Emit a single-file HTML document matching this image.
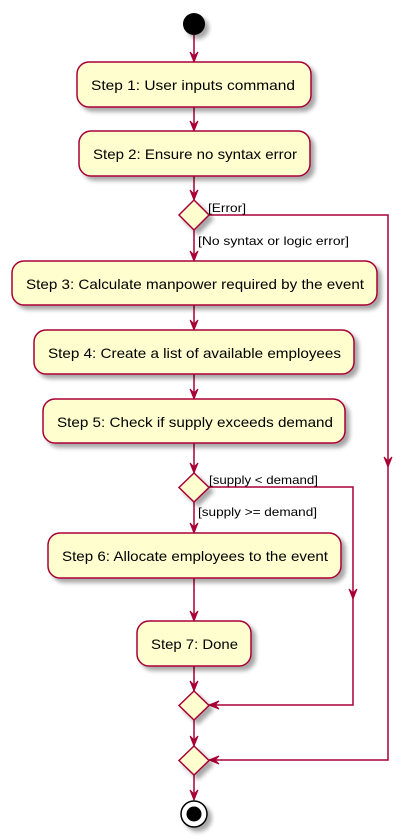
<!DOCTYPE html>
<html><head><meta charset="utf-8"><style>
html,body{margin:0;padding:0;background:#fff;}
svg{display:block;}
text{font-family:"Liberation Sans",sans-serif;fill:#000;}
</style></head><body>
<svg width="420" height="840" viewBox="0 0 420 840" xmlns="http://www.w3.org/2000/svg">
<defs>
<filter id="sh" x="-20%" y="-20%" width="150%" height="160%">
<feGaussianBlur in="SourceAlpha" stdDeviation="2"/>
<feOffset dx="4" dy="4" result="b"/>
<feComponentTransfer><feFuncA type="linear" slope="0.35"/></feComponentTransfer>
<feMerge><feMergeNode/><feMergeNode in="SourceGraphic"/></feMerge>
</filter>
</defs>
<g stroke="#A80036" stroke-width="1.5" fill="none">
<line x1="194" y1="35" x2="194" y2="62"/>
<line x1="194" y1="107" x2="194" y2="131"/>
<line x1="194" y1="176" x2="194" y2="200"/>
<line x1="194" y1="230" x2="194" y2="261"/>
<line x1="194" y1="305" x2="194" y2="330"/>
<line x1="194" y1="374" x2="194" y2="399"/>
<line x1="194" y1="443" x2="194" y2="473"/>
<line x1="194" y1="502" x2="194" y2="533"/>
<line x1="194" y1="578" x2="194" y2="621"/>
<line x1="194" y1="666" x2="194" y2="691"/>
<line x1="194" y1="720" x2="194" y2="746"/>
<line x1="194" y1="775" x2="194" y2="800"/>
<polyline points="209,215 388,215 388,760 209,760"/>
<polyline points="209,487 353,487 353,705 209,705"/>
</g>
<g fill="#A80036" stroke="#A80036" stroke-width="1">
<polygon points="190,52 194,62 198,52 194,56"/>
<polygon points="190,121 194,131 198,121 194,125"/>
<polygon points="190,190 194,200 198,190 194,194"/>
<polygon points="190,251 194,261 198,251 194,255"/>
<polygon points="190,320 194,330 198,320 194,324"/>
<polygon points="190,389 194,399 198,389 194,393"/>
<polygon points="190,463 194,473 198,463 194,467"/>
<polygon points="190,523 194,533 198,523 194,527"/>
<polygon points="190,611 194,621 198,611 194,615"/>
<polygon points="190,681 194,691 198,681 194,685"/>
<polygon points="190,736 194,746 198,736 194,740"/>
<polygon points="190,790 194,800 198,790 194,794"/>
<polygon points="384,457 388,467 392,457 388,461"/>
<polygon points="349,589 353,599 357,589 353,593"/>
<polygon points="219,701 209,705 219,709 215,705"/>
<polygon points="219,756 209,760 219,764 215,760"/>
</g>
<circle cx="194" cy="24" r="11" fill="#000" filter="url(#sh)"/>
<g fill="#FEFECE" stroke="#A80036" stroke-width="1.5" filter="url(#sh)">
<rect x="77" y="62" width="234" height="45" rx="12"/>
<rect x="79" y="131" width="231" height="45" rx="12"/>
<rect x="12" y="261" width="365" height="44" rx="12"/>
<rect x="34" y="330" width="320" height="44" rx="12"/>
<rect x="43" y="399" width="302" height="44" rx="12"/>
<rect x="48" y="533" width="293" height="45" rx="12"/>
<rect x="137" y="621" width="114" height="45" rx="12"/>
<polygon points="194,200 209,215 194,230 179,215"/>
<polygon points="194,473 209,487.5 194,502 179,487.5"/>
<polygon points="194,691 209,705.5 194,720 179,705.5"/>
<polygon points="194,746 209,760.5 194,775 179,760.5"/>
</g>
<circle cx="194" cy="814" r="13" fill="#fff" stroke="#000" stroke-width="1.5" filter="url(#sh)"/>
<circle cx="194" cy="814" r="7.5" fill="#000"/>
<g font-size="14">
<text x="91" y="90" textLength="204" lengthAdjust="spacingAndGlyphs">Step 1: User inputs command</text>
<text x="93" y="159" textLength="204" lengthAdjust="spacingAndGlyphs">Step 2: Ensure no syntax error</text>
<text x="26" y="289" textLength="338" lengthAdjust="spacingAndGlyphs">Step 3: Calculate manpower required by the event</text>
<text x="48" y="358" textLength="293" lengthAdjust="spacingAndGlyphs">Step 4: Create a list of available employees</text>
<text x="57" y="427" textLength="276" lengthAdjust="spacingAndGlyphs">Step 5: Check if supply exceeds demand</text>
<text x="62" y="561" textLength="266" lengthAdjust="spacingAndGlyphs">Step 6: Allocate employees to the event</text>
<text x="151" y="649" textLength="87" lengthAdjust="spacingAndGlyphs">Step 7: Done</text>
</g>
<g font-size="12">
<text x="208" y="212" textLength="38" lengthAdjust="spacingAndGlyphs">[Error]</text>
<text x="198" y="245" textLength="151" lengthAdjust="spacingAndGlyphs">[No syntax or logic error]</text>
<text x="209" y="484" textLength="109" lengthAdjust="spacingAndGlyphs">[supply &lt; demand]</text>
<text x="198" y="516" textLength="119" lengthAdjust="spacingAndGlyphs">[supply &gt;= demand]</text>
</g>
</svg>
</body></html>
